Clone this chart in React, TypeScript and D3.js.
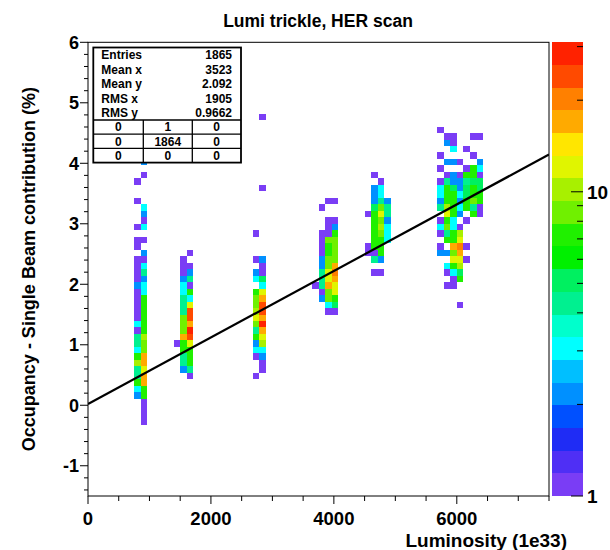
import React from 'react';
import * as d3 from 'd3';

// ---- axis / binning ----
const X_RANGE: [number, number] = [0, 7500];
const Y_RANGE: [number, number] = [-1.5, 6];
const N_BINS_X = 70;
const N_BINS_Y = 70;
const Z_MIN = 1;
const Z_MAX = 31;

const X_TICKS = [0, 2000, 4000, 6000];
const Y_TICKS = [-1, 0, 1, 2, 3, 4, 5, 6];
const Z_MINOR_TICKS = [2, 3, 4, 5, 6, 7, 8, 9, 20, 30];
const Z_LABELS = [1, 10];

const TITLE = 'Lumi trickle, HER scan';
const X_TITLE = 'Luminosity (1e33)';
const Y_TITLE = 'Occupancy - Single Beam contribution (%)';

const FIT_INTERCEPT = 0.02;
const FIT_SLOPE = 5.5e-4;

const STAT_NAMES = ['Entries', 'Mean x', 'Mean y', 'RMS x', 'RMS y'];
const STAT_VALUES = ['1865', '3523', '2.092', '1905', '0.9662'];
const OVERFLOW_TABLE = [
  [0, 1, 0],
  [0, 1864, 0],
  [0, 0, 0],
];

// 20 colour levels of the ROOT "pretty" palette, bottom -> top
const PALETTE = [
  '#7a3df5', '#4f2ff5', '#1f2cf5', '#0050ff', '#0090ff',
  '#00bfff', '#00ffff', '#00ffcc', '#00f090', '#00f060',
  '#00f000', '#20f000', '#70f000', '#a8f000', '#e0f500',
  '#ffe600', '#ffaa00', '#ff8000', '#ff4a00', '#ff2200',
];

// ---- bin contents: each row = [yBin, counts for consecutive x bins from firstX] ----
const CLUSTER_850 = {
  firstX: 7,
  rows: [
    [67, 1, 0], [59, 0, 1], [58, 1, 0], [53, 1, 1], [52, 1, 1], [51, 0, 2],
    [49, 0, 1], [48, 1, 0], [45, 1, 0], [44, 0, 3], [43, 0, 2], [42, 0, 1],
    [41, 1, 3], [39, 1, 1], [38, 1, 0], [37, 0, 2], [36, 1, 1], [35, 1, 3],
    [34, 1, 4], [33, 1, 2], [32, 2, 3], [31, 1, 3], [30, 1, 7], [29, 1, 7],
    [28, 1, 7], [27, 1, 7], [26, 3, 7], [25, 1, 7], [24, 4, 11], [23, 4, 9],
    [22, 3, 9], [21, 7, 16], [20, 11, 16], [19, 4, 13], [18, 4, 16], [17, 7, 16],
    [16, 3, 7], [15, 2, 7], [14, 0, 1], [13, 0, 1], [12, 0, 1], [11, 0, 1],
  ],
};

const CLUSTER_1600 = {
  firstX: 13,
  rows: [
    [37, 0, 0, 1], [36, 0, 1, 0], [35, 0, 1, 1], [34, 0, 1, 2], [33, 0, 2, 4],
    [32, 0, 3, 1], [31, 0, 3, 7], [30, 0, 4, 3], [29, 0, 4, 13], [28, 0, 4, 22],
    [27, 0, 9, 22], [26, 0, 9, 16], [25, 0, 9, 27], [24, 0, 16, 22], [23, 1, 7, 13],
    [22, 0, 7, 7], [21, 0, 4, 7], [20, 0, 4, 7], [19, 0, 2, 4], [18, 0, 0, 1],
  ],
};

const CLUSTER_2750 = {
  firstX: 25,
  rows: [
    [58, 0, 1], [47, 0, 1], [40, 1, 0], [36, 1, 2], [35, 0, 1], [34, 2, 1],
    [33, 3, 5], [32, 0, 3], [31, 7, 13], [30, 9, 16], [29, 9, 22], [28, 11, 22],
    [27, 13, 16], [26, 9, 27], [25, 4, 16], [24, 7, 13], [23, 2, 11], [22, 3, 3],
    [21, 1, 2], [20, 0, 1], [19, 0, 1], [18, 1, 0],
  ],
};

const CLUSTER_3900 = {
  firstX: 34,
  rows: [
    [45, 0, 0, 1, 1], [44, 0, 1, 0, 0], [42, 0, 0, 1, 1], [41, 0, 0, 1, 2],
    [40, 0, 1, 1, 7], [39, 0, 1, 9, 9], [38, 0, 1, 7, 9], [37, 0, 1, 7, 9],
    [36, 0, 2, 9, 9], [35, 0, 2, 9, 16], [34, 0, 4, 13, 19], [33, 0, 4, 13, 16],
    [32, 1, 4, 16, 13], [31, 0, 1, 9, 13], [30, 0, 2, 9, 7], [29, 0, 0, 3, 5],
    [28, 0, 0, 1, 1],
  ],
};

const CLUSTER_4700 = {
  firstX: 42,
  rows: [
    [49, 0, 1, 0, 0], [48, 0, 0, 1, 0], [47, 0, 2, 3, 0], [46, 0, 2, 3, 0],
    [45, 0, 2, 4, 2], [44, 0, 5, 9, 4], [43, 1, 7, 13, 4], [42, 0, 7, 9, 2],
    [41, 0, 7, 11, 3], [40, 0, 7, 9, 3], [39, 0, 7, 7, 3], [38, 1, 7, 7, 0],
    [37, 1, 1, 7, 0], [36, 0, 4, 2, 0], [34, 0, 1, 1, 0],
  ],
};

const CLUSTER_6000 = {
  firstX: 53,
  rows: [
    [56, 1, 0, 0, 0, 0, 0, 0], [55, 0, 1, 1, 0, 0, 1, 1], [54, 0, 2, 1, 0, 0, 0, 0],
    [53, 0, 0, 3, 0, 1, 0, 0], [52, 1, 0, 0, 0, 0, 1, 0], [51, 0, 2, 2, 1, 0, 0, 2],
    [50, 1, 0, 0, 0, 1, 7, 3], [49, 0, 1, 2, 1, 7, 7, 1], [48, 1, 4, 2, 2, 4, 5, 5],
    [47, 3, 7, 5, 2, 5, 7, 5], [46, 3, 7, 7, 3, 5, 7, 7], [45, 2, 7, 7, 2, 7, 9, 7],
    [44, 4, 11, 7, 3, 7, 4, 1], [43, 0, 13, 7, 2, 0, 7, 1], [42, 1, 7, 3, 0, 1, 0, 0],
    [41, 3, 9, 3, 1, 0, 0, 0], [40, 1, 4, 7, 11, 0, 0, 0], [39, 0, 7, 7, 13, 0, 0, 0],
    [38, 1, 0, 16, 19, 1, 0, 0], [37, 2, 2, 9, 16, 0, 0, 0], [36, 0, 0, 13, 13, 1, 0, 0],
    [35, 0, 3, 7, 11, 0, 0, 0], [34, 0, 1, 3, 5, 0, 0, 0], [33, 0, 0, 1, 7, 0, 0, 0],
    [32, 0, 1, 1, 0, 0, 0, 0], [29, 0, 0, 0, 1, 0, 0, 0],
  ],
};

const CLUSTERS = [CLUSTER_850, CLUSTER_1600, CLUSTER_2750, CLUSTER_3900, CLUSTER_4700, CLUSTER_6000];

// ---- layout ----
const W = 610;
const H = 550;
const FRAME = { left: 88, right: 549, top: 42.3, bottom: 496 };
const BAR = { left: 552, right: 583 };
const FONT = '"Liberation Sans", Arial, Helvetica, sans-serif';

export default function App() {
  const x = d3.scaleLinear().domain(X_RANGE).range([FRAME.left, FRAME.right]);
  const y = d3.scaleLinear().domain(Y_RANGE).range([FRAME.bottom, FRAME.top]);
  const z = d3.scaleLog().domain([Z_MIN, Z_MAX]).range([FRAME.bottom, FRAME.top]);
  const logMax = Math.log10(Z_MAX / Z_MIN);
  const colour = d3.scaleQuantize<string>().domain([0, logMax]).range(PALETTE);

  const bx = (X_RANGE[1] - X_RANGE[0]) / N_BINS_X;
  const by = (Y_RANGE[1] - Y_RANGE[0]) / N_BINS_Y;

  const cells: { x0: number; y0: number; n: number }[] = [];
  CLUSTERS.forEach((cl) => {
    cl.rows.forEach((row) => {
      const j = row[0];
      row.slice(1).forEach((n, i) => {
        if (n > 0) cells.push({ x0: X_RANGE[0] + (cl.firstX + i) * bx, y0: Y_RANGE[0] + j * by, n });
      });
    });
  });

  const yMinor = d3.range(Y_RANGE[0] + 0.1, Y_RANGE[1] + 1e-9, 0.2).map((v) => Math.round(v * 10) / 10);
  const xMinor = d3.range(X_RANGE[0], X_RANGE[1] + 1, 500);

  const bands = PALETTE.map((c, k) => {
    const lo = Z_MIN * Math.pow(10, (k * logMax) / PALETTE.length);
    const hi = Z_MIN * Math.pow(10, ((k + 1) * logMax) / PALETTE.length);
    return { c, lo, hi };
  });

  const fitY = (v: number) => FIT_INTERCEPT + FIT_SLOPE * v;

  const boxL = 93.3, boxR = 241, boxT = 47.5;
  const statRowH = 14.5;
  const tabTop = boxT + STAT_NAMES.length * statRowH;
  const tabRowH = 14.2;
  const tabCols = [boxL, 143.3, 192.3, boxR];

  return (
    <svg width={W} height={H} style={{ position: 'absolute', left: 0, top: 0, background: '#fff' }} fontFamily={FONT}>
      <rect x={0} y={0} width={W} height={H} fill="#fff" />
      <defs>
        <clipPath id="frameClip">
          <rect x={FRAME.left} y={FRAME.top} width={FRAME.right - FRAME.left} height={FRAME.bottom - FRAME.top} />
        </clipPath>
      </defs>

      {/* cells */}
      <g shapeRendering="crispEdges">
        {cells.map((d, i) => (
          <rect
            key={i}
            x={x(d.x0)}
            y={y(d.y0 + by)}
            width={x(d.x0 + bx) - x(d.x0)}
            height={y(d.y0) - y(d.y0 + by)}
            fill={colour(Math.log10(d.n / Z_MIN))}
          />
        ))}
      </g>

      {/* fit line */}
      <line
        x1={x(X_RANGE[0])}
        y1={y(fitY(X_RANGE[0]))}
        x2={x(X_RANGE[1])}
        y2={y(fitY(X_RANGE[1]))}
        stroke="#000"
        strokeWidth={2.2}
        clipPath="url(#frameClip)"
      />

      {/* frame */}
      <rect
        x={FRAME.left}
        y={FRAME.top}
        width={FRAME.right - FRAME.left}
        height={FRAME.bottom - FRAME.top}
        fill="none"
        stroke="#000"
        strokeWidth={1}
      />

      {/* axis ticks */}
      <g stroke="#000" strokeWidth={1}>
        {Y_TICKS.map((t) => (
          <line key={'ym' + t} x1={FRAME.left - 8} x2={FRAME.left} y1={y(t)} y2={y(t)} />
        ))}
        {yMinor.filter((t) => !Y_TICKS.includes(t)).map((t) => (
          <line key={'yn' + t} x1={FRAME.left - 4} x2={FRAME.left} y1={y(t)} y2={y(t)} />
        ))}
        {xMinor.map((t) => (
          <line
            key={'xt' + t}
            x1={x(t)}
            x2={x(t)}
            y1={FRAME.bottom}
            y2={FRAME.bottom + (X_TICKS.includes(t) ? 8 : 5)}
          />
        ))}
      </g>

      {/* y labels */}
      {Y_TICKS.map((t) => (
        <text key={'yl' + t} x={FRAME.left - 9} y={y(t)} dy="0.36em" textAnchor="end" fontWeight="bold" fontSize={18}>
          {t}
        </text>
      ))}
      {/* x labels */}
      {X_TICKS.map((t) => (
        <text key={'xl' + t} x={x(t)} y={524.5} textAnchor="middle" fontWeight="bold" fontSize={18.5}>
          {t}
        </text>
      ))}

      {/* titles */}
      <text x={318} y={27} textAnchor="middle" fontWeight="bold" fontSize={17.5}>
        {TITLE}
      </text>
      <text x={567} y={546.5} textAnchor="end" fontWeight="bold" fontSize={19}>
        {X_TITLE}
      </text>
      <text
        transform={`translate(35, ${(FRAME.top + FRAME.bottom) / 2}) rotate(-90)`}
        textAnchor="middle"
        fontWeight="bold"
        fontSize={18}
      >
        {Y_TITLE}
      </text>

      {/* palette */}
      <g shapeRendering="crispEdges">
        {bands.map((b, k) => (
          <rect key={'b' + k} x={BAR.left} y={z(b.hi)} width={BAR.right - BAR.left} height={z(b.lo) - z(b.hi)} fill={b.c} />
        ))}
      </g>
      <g stroke="#000" strokeWidth={1}>
        {Z_LABELS.map((t) => (
          <line key={'zm' + t} x1={BAR.right - 12} x2={BAR.right} y1={z(t)} y2={z(t)} />
        ))}
        {Z_MINOR_TICKS.map((t) => (
          <line key={'zn' + t} x1={BAR.right - 6} x2={BAR.right} y1={z(t)} y2={z(t)} />
        ))}
      </g>
      {Z_LABELS.map((t) => (
        <text key={'zl' + t} x={BAR.right + 4} y={z(t)} dy="0.36em" fontWeight="bold" fontSize={19}>
          {t}
        </text>
      ))}

      {/* stats box */}
      <g>
        <rect x={boxL} y={boxT} width={boxR - boxL} height={tabTop + 3 * tabRowH - boxT} fill="#fff" stroke="#000" strokeWidth={1.8} />
        {STAT_NAMES.map((s, i) => (
          <g key={'s' + i}>
            <text x={boxL + 8} y={boxT + (i + 0.5) * statRowH} dy="0.36em" fontWeight="bold" fontSize={12}>
              {s}
            </text>
            <text x={boxR - 9} y={boxT + (i + 0.5) * statRowH} dy="0.36em" textAnchor="end" fontWeight="bold" fontSize={12}>
              {STAT_VALUES[i]}
            </text>
          </g>
        ))}
        <g stroke="#000" strokeWidth={1.3}>
          {[0, 1, 2].map((r) => (
            <line key={'tr' + r} x1={boxL} x2={boxR} y1={tabTop + r * tabRowH} y2={tabTop + r * tabRowH} />
          ))}
          <line x1={tabCols[1]} x2={tabCols[1]} y1={tabTop} y2={tabTop + 3 * tabRowH} />
          <line x1={tabCols[2]} x2={tabCols[2]} y1={tabTop} y2={tabTop + 3 * tabRowH} />
        </g>
        {OVERFLOW_TABLE.map((row, r) =>
          row.map((v, c) => (
            <text
              key={'t' + r + c}
              x={(tabCols[c] + tabCols[c + 1]) / 2}
              y={tabTop + (r + 0.5) * tabRowH}
              dy="0.36em"
              textAnchor="middle"
              fontWeight="bold"
              fontSize={12}
            >
              {v}
            </text>
          ))
        )}
      </g>
    </svg>
  );
}
